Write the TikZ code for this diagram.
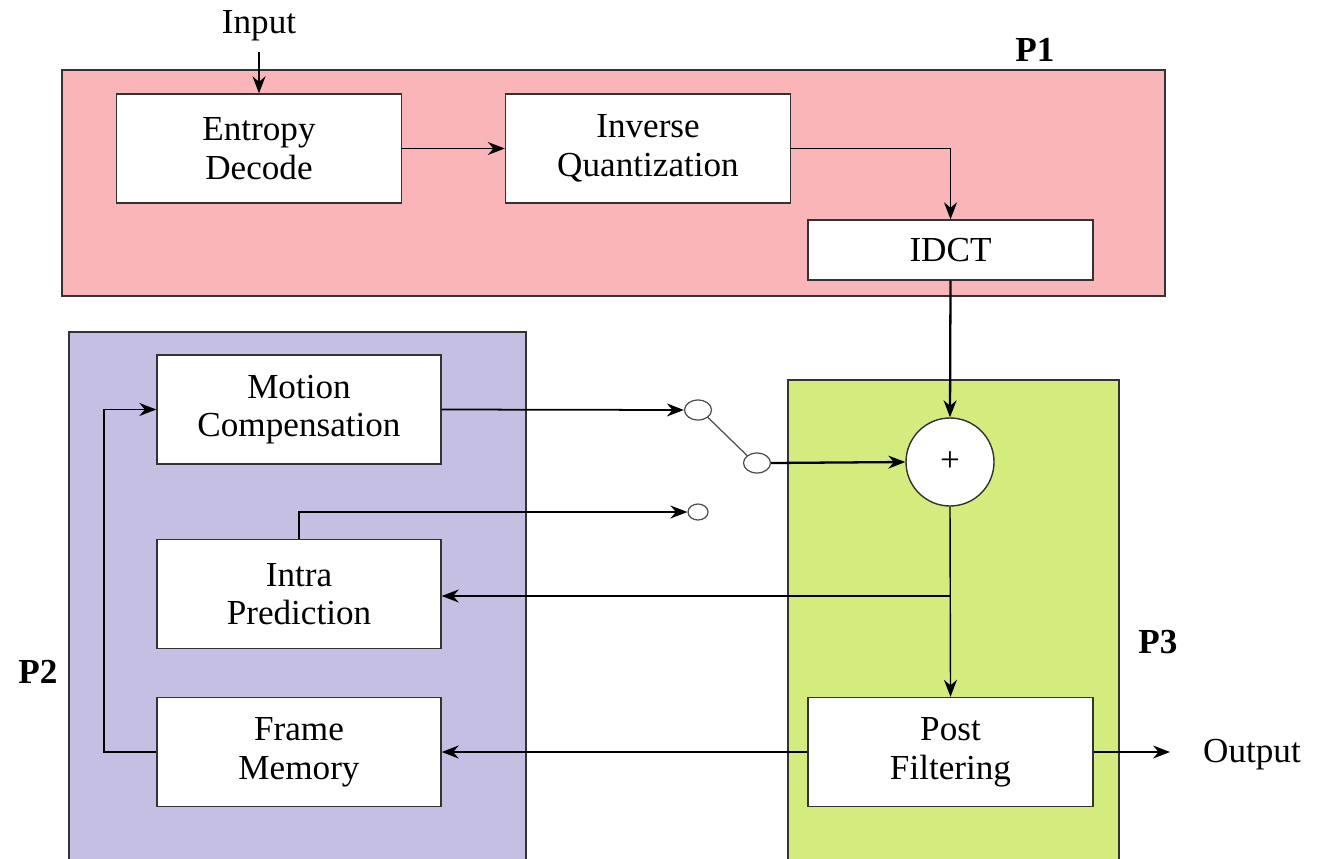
\documentclass[tikz,border=0pt]{standalone}
\usepackage{fontspec}
\setmainfont{Liberation Serif}
\usepackage{tikz}
\usetikzlibrary{arrows.meta,shapes.geometric}

\begin{document}
\begin{tikzpicture}[every node/.style={font=\fontsize{20}{22}\selectfont}, >={Stealth[length=3.4mm,width=2.6mm]},
	blk/.style={draw=black!80, fill=white, line width=0.8pt, minimum width=5.7cm, minimum height=2.18cm, align=center},
	sw/.style={draw=black!70, fill=white, ellipse, line width=0.7pt, inner sep=0pt, minimum width=0.54cm, minimum height=0.4cm},
	lane/.style={draw=black!80, line width=0.8pt},
	tag/.style={font=\fontsize{20}{22}\selectfont\bfseries}]
	\useasboundingbox (0,0) rectangle (26.48,17.16);
	% regions
	\fill[lane, fill={rgb,255:red,249;green,181;blue,184}] (1.24,11.24) rectangle (23.30,15.76);
	\fill[lane, fill={rgb,255:red,197;green,191;blue,228}] (1.38,-0.1) rectangle (10.52,10.52);
	\fill[lane, fill={rgb,255:red,212;green,236;blue,126}] (15.76,-0.1) rectangle (22.38,9.56);
	\node[tag] (p1) at (20.7,16.16) {P1};
	\node[tag] (p2) at (0.76,3.72) {P2};
	\node[tag] (p3) at (23.16,4.32) {P3};
	% blocks
	\node (input) at (5.18,16.64) {Input};
	\node[blk] (ent) at (5.18,14.19) {Entropy\\Decode};
	\node[blk] (iq) at (12.96,14.19) {Inverse\\Quantization};
	\node[blk, minimum height=1.2cm] (idct) at (19.01,12.16) {IDCT};
	\node[blk, minimum width=5.68cm] (mc) at (5.98,8.97) {Motion\\Compensation};
	\node[blk, minimum width=5.68cm] (ip) at (5.98,5.28) {Intra\\Prediction};
	\node[blk, minimum width=5.68cm] (fm) at (5.98,2.12) {Frame\\Memory};
	\node[blk] (pf) at (19.01,2.12) {Post\\Filtering};
	\node[draw=black!80, fill=white, circle, line width=0.8pt, minimum size=1.76cm, inner sep=0pt] (sum) at (19.0,7.92) {+};
	\node (output) at (25.04,2.06) {Output};
	% switch
	\node[sw] (s1) at (13.96,8.96) {};
	\node[sw] (s2) at (15.14,7.90) {};
	\node[sw, minimum width=0.4cm, minimum height=0.32cm] (s3) at (13.96,6.92) {};
	\coordinate (tap) at (19.0,5.24);
	\coordinate (loop) at (2.08,2.12);
	\coordinate (out) at (23.4,2.12);
	% connectors
	\draw[->, line width=0.7pt] (input.south) ++(0,-0.1) -- (ent.north);
	\draw[->, line width=0.7pt] (ent.east) -- (iq.west);
	\draw[->, line width=0.7pt] (iq.east) -| (idct.north);
	\draw[->, line width=1.3pt] (idct.south) -- (sum.north);
	\draw[->, line width=1pt] (mc.east) -- (s1.west);
	\draw[black!70, line width=0.7pt] (s1.south east) -- (s2.north west);
	\draw[->, line width=1.3pt] (s2.east) -- (sum.west);
	\draw[->, line width=1pt] (ip.north) |- (s3.west);
	\draw[->, line width=0.8pt] (sum.south) -- (pf.north);
	\draw[->, line width=0.8pt] (tap) -- (tap -| ip.east);
	\draw[->, line width=0.8pt] (pf.west) -- (fm.east);
	\draw[->, line width=0.8pt] (fm.west) -- (loop) |- (mc.west);
	\draw[->, line width=0.8pt] (pf.east) -- (out);
\end{tikzpicture}
\end{document}
